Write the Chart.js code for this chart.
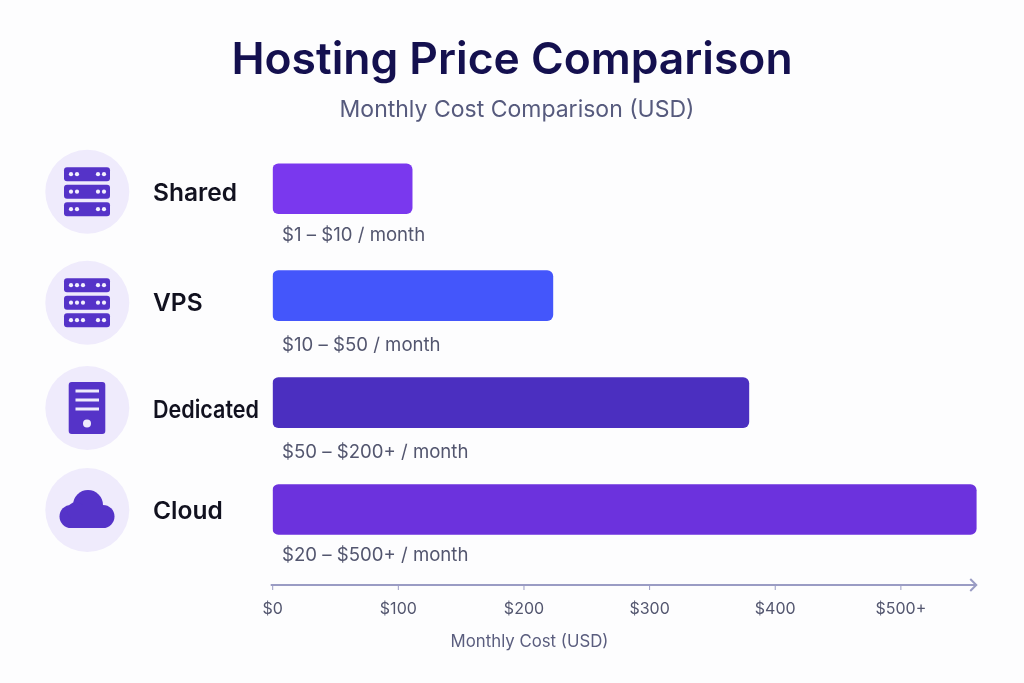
<!DOCTYPE html>
<html>
<head>
<meta charset="utf-8">
<title>Hosting Price Comparison</title>
<script src="https://cdn.jsdelivr.net/npm/chart.js@4/dist/chart.umd.min.js"></script>
<style>
  html, body { margin: 0; padding: 0; background: #fdfdfe; }
  canvas { display: block; }
</style>
</head>
<body>
<canvas id="priceChart" width="1024" height="683"></canvas>
<script>
// Data
const categories = ['Shared', 'VPS', 'Dedicated', 'Cloud'];
const barValues = [111, 223, 379, 560];
const priceLabels = ['$1 – $10 / month', '$10 – $50 / month', '$50 – $200+ / month', '$20 – $500+ / month'];
const tickValues = [0, 100, 200, 300, 400, 500];
const tickLabels = ['$0', '$100', '$200', '$300', '$400', '$500+'];
const barColors = ['#7a38ee', '#4456fb', '#4b2fc0', '#6c32dd'];

const ICON_COLOR = '#5533c8';
const CIRCLE_COLOR = '#efebfc';
const AXIS_END = 560;

function fillCircle(ctx, x, y, r) {
    ctx.beginPath();
    ctx.arc(x, y, r, 0, Math.PI * 2);
    ctx.fill();
}

function drawServerStack(ctx, cy, leftDots) {
    const h = 14, gap = 3.5;
    for (let i = -1; i <= 1; i++) {
        const y = cy + i * (h + gap) - h / 2;
        ctx.fillStyle = ICON_COLOR;
        ctx.beginPath();
        ctx.roundRect(64, y, 46, h, 3);
        ctx.fill();
        ctx.fillStyle = '#f3f0fe';
        for (let d = 0; d < leftDots; d++) {
            fillCircle(ctx, 71 + d * 6, y + h / 2, 2.1);
        }
        for (let d = 0; d < 2; d++) {
            fillCircle(ctx, 98 + d * 6, y + h / 2, 2.1);
        }
    }
}

function drawTower(ctx, cy) {
    ctx.fillStyle = ICON_COLOR;
    ctx.beginPath();
    ctx.roundRect(68.7, cy - 26, 36.6, 52, 3);
    ctx.fill();
    ctx.fillStyle = '#efebfc';
    [-17, -8, 1].forEach(o => ctx.fillRect(75.5, cy + o - 1.5, 23.5, 3));
    fillCircle(ctx, 87, cy + 15.5, 4);
}

function drawCloud(ctx, cy) {
    ctx.fillStyle = ICON_COLOR;
    fillCircle(ctx, 88, cy - 5, 15);
    fillCircle(ctx, 71, cy + 6.5, 11.5);
    fillCircle(ctx, 103, cy + 6.5, 11.5);
    fillCircle(ctx, 76, cy + 1, 9);
    ctx.fillRect(71, cy - 5, 32, 23);
}

// Icons, row names, price notes, subtitle, axis title and the arrow axis
const decorPlugin = {
    id: 'decor',
    afterDatasetsDraw(chart) {
        const ctx = chart.ctx;
        const x = chart.scales.x;
        const iconY = [191.7, 302.7, 408, 510];
        const nameY = [193.5, 304, 410.5, 512];
        const noteY = [235, 345, 452, 555];
        const axisY = 585;
        const axisEnd = x.getPixelForValue(AXIS_END);

        ctx.save();
        ctx.textBaseline = 'middle';

        ctx.textAlign = 'center';
        ctx.fillStyle = '#565a7d';
        ctx.font = '400 23px Inter';
        ctx.fillText('Monthly Cost Comparison (USD)', 517, 110);

        ctx.fillStyle = '#5a5d7e';
        ctx.font = '400 16.8px Inter';
        ctx.fillText('Monthly Cost (USD)', 529.5, 642);

        categories.forEach((name, i) => {
            ctx.fillStyle = CIRCLE_COLOR;
            fillCircle(ctx, 87.3, iconY[i], 42);
            if (i === 0) drawServerStack(ctx, iconY[i], 2);
            if (i === 1) drawServerStack(ctx, iconY[i], 3);
            if (i === 2) drawTower(ctx, iconY[i]);
            if (i === 3) drawCloud(ctx, iconY[i]);

            ctx.textAlign = 'left';
            ctx.fillStyle = '#11111f';
            ctx.font = '600 24.5px Inter';
            ctx.fillText(name, 153, nameY[i], 106);

            ctx.fillStyle = '#53566f';
            ctx.font = '400 18.6px Inter';
            ctx.fillText(priceLabels[i], 282, noteY[i]);
        });

        // axis line, tick marks and arrow head
        ctx.strokeStyle = '#9a9cc4';
        ctx.lineWidth = 2;
        ctx.beginPath();
        ctx.moveTo(x.left - 2, axisY);
        ctx.lineTo(axisEnd, axisY);
        ctx.moveTo(axisEnd - 6, axisY - 6);
        ctx.lineTo(axisEnd, axisY);
        ctx.lineTo(axisEnd - 6, axisY + 6);
        ctx.stroke();
        ctx.lineWidth = 1;
        tickValues.forEach(v => {
            const px = x.getPixelForValue(v);
            ctx.beginPath();
            ctx.moveTo(px, axisY);
            ctx.lineTo(px, axisY + 5);
            ctx.stroke();
        });
        ctx.restore();
    }
};

new Chart(document.getElementById('priceChart'), {
    type: 'bar',
    data: {
        labels: categories,
        datasets: [{
            data: barValues,
            backgroundColor: barColors,
            borderRadius: 6,
            borderSkipped: false,
            barThickness: 50
        }]
    },
    options: {
        indexAxis: 'y',
        responsive: false,
        animation: false,
        plugins: {
            legend: { display: false },
            tooltip: { enabled: false },
            title: {
                display: true,
                text: 'Hosting Price Comparison',
                color: '#14104f',
                font: { family: 'Inter', size: 44.4, weight: '600' },
                padding: { top: 34, bottom: 48 }
            }
        },
        scales: {
            x: {
                min: 0,
                max: 598,
                afterBuildTicks(scale) {
                    scale.ticks = tickValues.map(v => ({ value: v }));
                },
                afterFit(scale) {
                    scale.height = 120;
                },
                grid: { display: false },
                border: { display: false },
                ticks: {
                    autoSkip: false,
                    maxRotation: 0,
                    padding: 29,
                    color: '#53566f',
                    font: { family: 'Inter', size: 16 },
                    callback: (v) => tickLabels[tickValues.indexOf(v)]
                }
            },
            y: {
                afterFit(scale) {
                    scale.width = 272.7;
                },
                grid: { display: false },
                border: { display: false },
                ticks: { display: false }
            }
        }
    },
    plugins: [decorPlugin]
});
</script>
</body>
</html>
